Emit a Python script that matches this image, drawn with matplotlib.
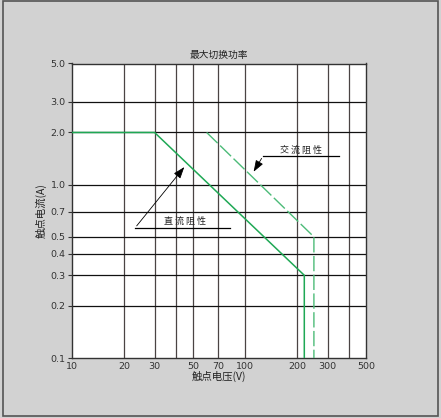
import matplotlib
matplotlib.use("Agg")
import matplotlib.pyplot as plt
from matplotlib.patches import Rectangle

plt.rcParams['font.family'] = ['Noto Sans CJK SC', 'DejaVu Sans']

# data
dc_v = [10, 30, 220, 220]
dc_a = [2.0, 2.0, 0.3, 0.1]
ac_v = [60, 250, 250]
ac_a = [2.0, 0.5, 0.1]

x_grid = [20, 30, 40, 50, 70, 100, 200, 300, 400]
y_grid = [0.2, 0.3, 0.4, 0.5, 0.7, 1.0, 2.0, 3.0]
x_ticks = [10, 20, 30, 50, 70, 100, 200, 300, 500]
y_ticks = [0.1, 0.2, 0.3, 0.4, 0.5, 0.7, 1.0, 2.0, 3.0, 5.0]

solid_green = '#1fa855'
dash_green = '#4cbb78'

fig = plt.figure(figsize=(4.41, 4.18), dpi=100, facecolor='#d2d2d2')
fig.patches.append(Rectangle((3 / 441, 2 / 418), 435 / 441, 415 / 418, transform=fig.transFigure,
                             fill=False, edgecolor='#555555', linewidth=1.2))
ax = fig.add_axes([72 / 441, 60 / 418, 294 / 441, 294.5 / 418])
ax.set_facecolor('white')

ax.set_xscale('log')
ax.set_yscale('log')
ax.set_xlim(10, 500)
ax.set_ylim(0.1, 5.0)

for v in x_grid:
    ax.axvline(v, color='#4a4444', linewidth=0.9, zorder=1)
for a in y_grid:
    ax.axhline(a, color='#111111', linewidth=0.9, zorder=1)

ax.plot(dc_v, dc_a, color=solid_green, linewidth=1.1, zorder=3)
ax.plot(ac_v, ac_a, color=dash_green, linewidth=1.0, dashes=(11, 2.5), zorder=3)

ax.set_xticks(x_ticks)
ax.set_xticklabels([str(v) for v in x_ticks], family='DejaVu Sans')
ax.set_yticks(y_ticks)
ax.set_yticklabels(['%.1f' % v for v in y_ticks], family='DejaVu Sans')
ax.minorticks_off()
ax.tick_params(axis='x', length=0, pad=3, labelsize=6.8, labelcolor='#333333')
ax.tick_params(axis='y', length=3, width=0.8, color='#333333', pad=1.5, labelsize=6.8, labelcolor='#333333')

for s in ax.spines.values():
    s.set_color('#333333')
    s.set_linewidth(1.0)

ax.set_title('最大切换功率', fontsize=7, color='#222222', pad=4)
ax.set_xlabel('触点电压(V)', fontsize=7.5, color='#222222', labelpad=0)
ax.set_ylabel('触点电流(A)', fontsize=7.5, color='#222222', labelpad=3)

# annotations
arrow = dict(arrowstyle='-|>,head_length=0.7,head_width=0.25', color='black', lw=0.6)
ax.plot([127, 349], [1.463, 1.463], color='black', linewidth=0.9, zorder=4)
ax.annotate('', xy=(110, 1.15), xytext=(127, 1.463), arrowprops=arrow, zorder=4)
ax.text(210, 1.57, '交 流 阻 性', fontsize=6.5, ha='center', va='center', color='#222222', zorder=4)

ax.plot([23.1, 81.8], [0.562, 0.562], color='black', linewidth=0.9, zorder=4)
ax.annotate('', xy=(45.6, 1.30), xytext=(23.1, 0.562), arrowprops=arrow, zorder=4)
ax.text(45, 0.615, '直 流 阻 性', fontsize=6.5, ha='center', va='center', color='#222222', zorder=4)

fig.savefig('out.png', dpi=100, facecolor=fig.get_facecolor())
